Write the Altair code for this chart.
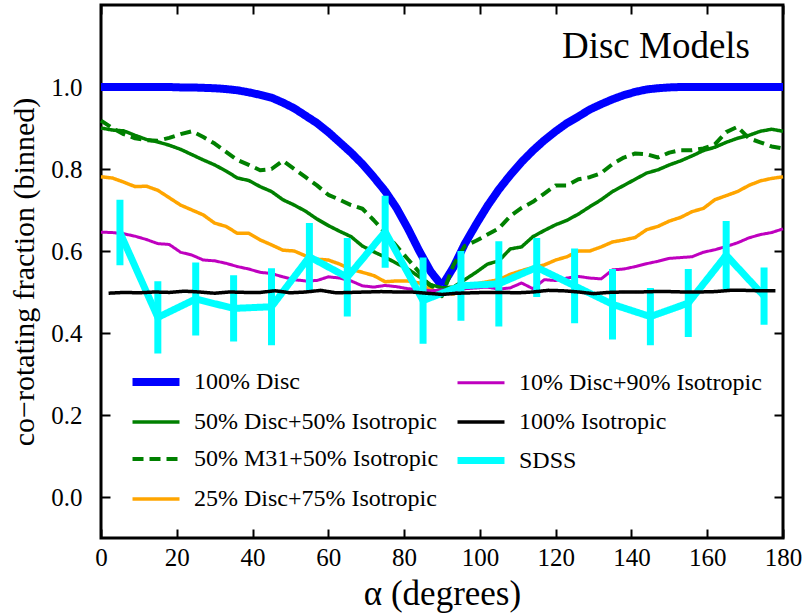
import altair as alt
import pandas as pd

S1 = "100% Disc"
S2 = "50% Disc+50% Isotropic"
S3 = "50% M31+50% Isotropic"
S4 = "25% Disc+75% Isotropic"
S5 = "10% Disc+90% Isotropic"
S6 = "100% Isotropic"
S7 = "SDSS"

alpha_models = list(range(0, 181, 3))

disc100 = [1.0, 1.0, 1.0, 1.0, 1.0, 1.0, 1.0, 0.999, 0.999, 0.998, 0.997,
           0.995, 0.992, 0.987, 0.981, 0.974, 0.962, 0.948, 0.93, 0.912, 0.89,
           0.865, 0.84, 0.812, 0.78, 0.746, 0.705, 0.655, 0.6, 0.55, 0.515,
           0.56, 0.617, 0.665, 0.71, 0.75, 0.785, 0.817, 0.845, 0.87, 0.892,
           0.912, 0.928, 0.945, 0.958, 0.97, 0.98, 0.988, 0.994, 0.997, 0.999,
           1.0, 1.0, 1.0, 1.0, 1.0, 1.0, 1.0, 1.0, 1.0, 1.0]

disc50 = [0.900, 0.895, 0.893, 0.882, 0.872, 0.866, 0.858, 0.848, 0.835, 0.822, 0.81,
          0.795, 0.778, 0.772, 0.757, 0.745, 0.725, 0.712, 0.697, 0.678, 0.662,
          0.648, 0.635, 0.612, 0.598, 0.585, 0.57, 0.556, 0.537, 0.518, 0.51,
          0.512, 0.53, 0.548, 0.568, 0.576, 0.605, 0.61, 0.635, 0.65, 0.664,
          0.675, 0.69, 0.708, 0.725, 0.745, 0.76, 0.775, 0.79, 0.798, 0.81,
          0.82, 0.832, 0.845, 0.853, 0.865, 0.875, 0.882, 0.892, 0.897, 0.892]

m31_50 = [0.918, 0.9, 0.885, 0.875, 0.87, 0.869, 0.876, 0.885, 0.892, 0.878, 0.862,
          0.842, 0.822, 0.81, 0.797, 0.8, 0.82, 0.8, 0.78, 0.76, 0.737,
          0.725, 0.712, 0.703, 0.675, 0.645, 0.612, 0.58, 0.548, 0.512, 0.49,
          0.565, 0.612, 0.625, 0.64, 0.655, 0.685, 0.705, 0.72, 0.74, 0.76,
          0.76, 0.775, 0.78, 0.79, 0.812, 0.828, 0.838, 0.836, 0.828, 0.84,
          0.846, 0.846, 0.85, 0.86, 0.89, 0.903, 0.875, 0.865, 0.855, 0.85]

disc25 = [0.781, 0.778, 0.768, 0.757, 0.758, 0.748, 0.73, 0.712, 0.7, 0.688, 0.668,
          0.66, 0.643, 0.643, 0.627, 0.615, 0.602, 0.6, 0.588, 0.58, 0.578,
          0.568, 0.555, 0.548, 0.54, 0.525, 0.527, 0.527, 0.522, 0.505, 0.5,
          0.495, 0.515, 0.52, 0.525, 0.53, 0.543, 0.552, 0.56, 0.566, 0.578,
          0.586, 0.6, 0.6, 0.61, 0.622, 0.627, 0.633, 0.652, 0.66, 0.673,
          0.682, 0.696, 0.704, 0.725, 0.735, 0.745, 0.76, 0.771, 0.777, 0.781]

disc10 = [0.646, 0.645, 0.642, 0.636, 0.628, 0.618, 0.616, 0.597, 0.59, 0.578, 0.576,
          0.57, 0.562, 0.556, 0.548, 0.545, 0.537, 0.53, 0.527, 0.528, 0.537,
          0.534, 0.527, 0.515, 0.512, 0.516, 0.513, 0.508, 0.506, 0.503, 0.505,
          0.503, 0.508, 0.51, 0.512, 0.507, 0.51, 0.522, 0.508, 0.53, 0.528,
          0.534, 0.538, 0.534, 0.532, 0.554, 0.556, 0.562, 0.569, 0.575, 0.582,
          0.584, 0.586, 0.597, 0.603, 0.611, 0.62, 0.632, 0.64, 0.645, 0.654]

alpha_iso = list(range(2, 179, 4))
iso100 = [0.497, 0.499, 0.498, 0.500, 0.499, 0.502, 0.500, 0.497, 0.500, 0.499,
          0.499, 0.503, 0.498, 0.500, 0.504, 0.498, 0.499, 0.500, 0.501, 0.500,
          0.500, 0.497, 0.494, 0.497, 0.498, 0.499, 0.499, 0.498, 0.500, 0.504,
          0.503, 0.500, 0.496, 0.499, 0.500, 0.500, 0.501, 0.501, 0.500, 0.500,
          0.501, 0.504, 0.504, 0.503, 0.503]

alpha_sdss = list(range(5, 176, 10))
sdss = [0.645, 0.438, 0.483, 0.46, 0.464, 0.586, 0.536, 0.647, 0.479,
        0.515, 0.52, 0.56, 0.515, 0.47, 0.44, 0.473, 0.59, 0.49]
sdss_err = [0.08, 0.088, 0.089, 0.081, 0.094, 0.082, 0.096, 0.088, 0.105,
            0.085, 0.104, 0.072, 0.091, 0.086, 0.07, 0.083, 0.083, 0.07]

order = [S1, S2, S3, S4, S5, S6, S7]
colors = ["#0000ff", "#008000", "#008000", "#ffa500", "#bf00bf", "#000000", "#00ffff"]
dashes = [[1, 0], [1, 0], [11, 6], [1, 0], [1, 0], [1, 0], [1, 0]]
widths = [8, 3.5, 4, 3.5, 3, 3.5, 7]

rows = []
for name, vals in [(S1, disc100), (S2, disc50), (S3, m31_50), (S4, disc25), (S5, disc10)]:
    for a, v in zip(alpha_models, vals):
        rows.append({"alpha": a, "value": v, "series": name})
df_models = pd.DataFrame(rows)
df_iso = pd.DataFrame({"alpha": alpha_iso, "value": iso100, "series": S6})
df_sdss = pd.DataFrame({
    "alpha": alpha_sdss,
    "value": sdss,
    "lo": [v - e for v, e in zip(sdss, sdss_err)],
    "hi": [v + e for v, e in zip(sdss, sdss_err)],
    "series": S7,
})

FONT = "Liberation Serif"

legend = alt.Legend(
    title=None, orient="none", legendX=39, legendY=361, columns=2,
    symbolType="M-2,0L2,0", symbolSize=552, symbolOffset=0,
    labelFont=FONT, labelFontSize=24, labelColor="black", labelOffset=22,
    labelLimit=400, rowPadding=10.5, columnPadding=4,
)

xscale = alt.Scale(domain=[0, 180], nice=False, zero=False)
yscale = alt.Scale(domain=[-0.1, 1.2], nice=False, zero=False)
xvals = list(range(0, 181, 20))
yvals = [0.0, 0.2, 0.4, 0.6, 0.8, 1.0]

x_bottom = alt.Axis(values=xvals, orient="bottom", offset=-9, tickSize=9, domain=False,
                    ticks=True, labelPadding=7, labelFlush=False, format="d",
                    title="α (degrees)", titlePadding=6)
y_left = alt.Axis(values=yvals, orient="left", offset=-9, tickSize=9, domain=False,
                  ticks=True, labelPadding=19, labelFlush=False, format=".1f",
                  title="co−rotating fraction (binned)", titleFontSize=30, titlePadding=11)
x_top = alt.Axis(values=xvals, orient="top", offset=-9, tickSize=9, domain=False,
                 ticks=True, labels=False, title=None)
y_right = alt.Axis(values=yvals, orient="right", offset=-9, tickSize=9, domain=False,
                   ticks=True, labels=False, title=None)


def style():
    return dict(
        color=alt.Color("series:N", scale=alt.Scale(domain=order, range=colors), legend=legend),
        strokeDash=alt.StrokeDash("series:N", scale=alt.Scale(domain=order, range=dashes), legend=legend),
        strokeWidth=alt.StrokeWidth("series:N", scale=alt.Scale(type="ordinal", domain=order, range=widths), legend=legend),
    )


models = alt.Chart(df_models).mark_line(strokeJoin="round").encode(
    x=alt.X("alpha:Q", scale=xscale, axis=x_bottom),
    y=alt.Y("value:Q", scale=yscale, axis=y_left),
    **style(),
)

sdss_bars = alt.Chart(df_sdss).mark_rule().encode(
    x=alt.X("alpha:Q", scale=xscale, axis=x_top),
    y=alt.Y("lo:Q", scale=yscale, axis=y_right),
    y2="hi:Q",
    **style(),
)

sdss_line = alt.Chart(df_sdss).mark_line(strokeJoin="miter").encode(
    x=alt.X("alpha:Q", scale=xscale, axis=None),
    y=alt.Y("value:Q", scale=yscale, axis=None),
    **style(),
)

iso_line = alt.Chart(df_iso).mark_line().encode(
    x=alt.X("alpha:Q", scale=xscale, axis=None),
    y=alt.Y("value:Q", scale=yscale, axis=None),
    **style(),
)

chart = alt.layer(models, sdss_bars, sdss_line, iso_line).resolve_axis(
    x="independent", y="independent"
).properties(
    width=682, height=533,
    background="white",
    autosize=alt.AutoSizeParams(type="none"),
    padding={"left": 101, "top": 5, "right": 22, "bottom": 76},
    title=alt.TitleParams("Disc Models", anchor="end", frame="group", font=FONT,
                          fontSize=37, fontWeight="normal", color="black",
                          offset=0, dx=-33, dy=91, baseline="alphabetic"),
).configure_view(
    stroke="black", strokeWidth=3
).configure_axis(
    labelFont=FONT, labelFontSize=25, labelColor="black",
    tickColor="black", tickWidth=2, grid=False,
    titleFont=FONT, titleFontSize=35, titleFontWeight="normal", titleColor="black",
)

chart.save("out.html", embed_options={"renderer": "svg", "actions": False})
